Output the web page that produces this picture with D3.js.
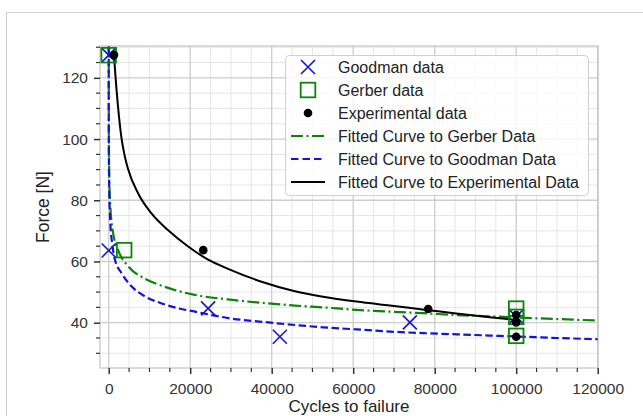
<!DOCTYPE html>
<html><head><meta charset="utf-8">
<script src="https://cdn.jsdelivr.net/npm/d3@7"></script>
<style>body{margin:0;background:#fff}svg{display:block;font-family:"Liberation Sans",Arial,sans-serif}</style>
</head><body>
<svg id="c" width="643" height="416"></svg>
<script>
// ---- data ----
const xMajorTicks = [0, 20000, 40000, 60000, 80000, 100000, 120000];
const yMajorTicks = [40, 60, 80, 100, 120];

const goodmanN = [0, 0, 24400, 42000, 73900, 100000];
const goodmanF = [127.4, 63.6, 44.7, 35.4, 40.1, 42.0];

const gerberN = [0, 3800, 100000, 100000, 100000];
const gerberF = [127.4, 63.7, 44.6, 41.9, 35.7];

const expN = [1300, 23200, 78400, 100000, 100000, 100000];
const expF = [127.5, 63.7, 44.5, 42.5, 40.1, 35.4];

const fitGerberN = [1, 10, 50, 150, 400, 1000, 2300, 4750, 8850, 12950, 21100, 29300, 37500, 45700, 52600, 60800, 69000, 77100, 85300, 93500, 100000, 110000, 120000];
const fitGerberF = [153, 118, 98.5, 87, 78, 70, 63.8, 58.5, 54.4, 52.1, 49.1, 47.6, 46.5, 45.6, 45.0, 44.2, 43.6, 43.1, 42.5, 42.1, 41.7, 41.2, 40.7];

const fitGoodmanN = [1, 10, 50, 150, 400, 900, 1550, 3200, 5650, 8900, 13000, 17100, 21200, 25300, 29350, 37550, 45700, 52650, 60850, 69000, 77200, 85400, 93550, 100000, 110000, 120000];
const fitGoodmanF = [155, 115, 94, 82, 72.5, 65.5, 60.5, 56.1, 51.8, 48.6, 46.3, 44.7, 43.6, 42.5, 41.5, 40.3, 39.25, 38.5, 37.8, 37.1, 36.6, 36.2, 35.8, 35.5, 35.0, 34.6];

const fitExpN = [1300, 1500, 2300, 3150, 3950, 4750, 7200, 10500, 14600, 19500, 24400, 29300, 37500, 45700, 52600, 60800, 69000, 78400, 85300, 93500, 100000];
const fitExpF = [127.5, 123.5, 110.4, 100.2, 94.4, 90.2, 82.3, 75.7, 70.2, 64.9, 60.6, 57.6, 53.4, 50.3, 48.5, 46.9, 45.6, 44.1, 43.0, 41.8, 40.9];

const legendLabels = ["Goodman data", "Gerber data", "Experimental data",
  "Fitted Curve to Gerber Data", "Fitted Curve to Goodman Data", "Fitted Curve to Experimental Data"];

// ---- drawing ----
const BLUE = "#1414d2", GREEN = "#0a840a", BLACK = "#000";
const svg = d3.select("#c");
const L = 100, R = 598, T = 46, B = 368;
const x = d3.scaleLinear().domain([-2135, 120074]).range([L, R]);
const y = d3.scaleLinear().domain([25.2, 130.4]).range([B, T]);

// figure frame
svg.append("rect").attr("x", 6.5).attr("y", 12.5).attr("width", 700).attr("height", 500)
  .attr("fill", "none").attr("stroke", "#cfcfcf").attr("stroke-width", 1);

const xMinor = d3.range(0, 120001, 5000).filter(v => !xMajorTicks.includes(v));
const yMinor = d3.range(30, 131, 5).filter(v => !yMajorTicks.includes(v));

const g = svg.append("g");
// grids
g.selectAll(".gxm").data(xMinor).join("line").attr("x1", d => x(d)).attr("x2", d => x(d))
  .attr("y1", T).attr("y2", B).attr("stroke", "#e6e6e6").attr("stroke-width", 1);
g.selectAll(".gym").data(yMinor).join("line").attr("y1", d => y(d)).attr("y2", d => y(d))
  .attr("x1", L).attr("x2", R).attr("stroke", "#e6e6e6").attr("stroke-width", 1);
g.selectAll(".gx").data(xMajorTicks).join("line").attr("x1", d => x(d)).attr("x2", d => x(d))
  .attr("y1", T).attr("y2", B).attr("stroke", "#cdcdcd").attr("stroke-width", 1.3);
g.selectAll(".gy").data(yMajorTicks).join("line").attr("y1", d => y(d)).attr("y2", d => y(d))
  .attr("x1", L).attr("x2", R).attr("stroke", "#cdcdcd").attr("stroke-width", 1.3);

// spines
svg.append("rect").attr("x", L).attr("y", T).attr("width", R - L).attr("height", B - T)
  .attr("fill", "none").attr("stroke", "#c4c4c4").attr("stroke-width", 1.2);

// axes with d3 axis
const xAxis = d3.axisBottom(x).tickValues(xMajorTicks).tickFormat(d3.format("d")).tickSize(6).tickPadding(4);
const yAxis = d3.axisLeft(y).tickValues(yMajorTicks).tickFormat(d3.format("d")).tickSize(6).tickPadding(6);
const gx = svg.append("g").attr("transform", `translate(0,${B})`).call(xAxis);
const gy = svg.append("g").attr("transform", `translate(${L},0)`).call(yAxis);
[gx, gy].forEach(a => {
  a.select(".domain").remove();
  a.selectAll(".tick line").attr("stroke", "#333").attr("stroke-width", 1.5);
  a.selectAll(".tick text").attr("fill", "#333").attr("font-size", 15.5)
    .attr("font-family", "Liberation Sans, Arial, sans-serif");
});
gx.selectAll(".tick text").attr("dy", null).attr("y", 25.5);
// minor ticks
svg.append("g").selectAll("line").data(xMinor).join("line")
  .attr("x1", d => x(d)).attr("x2", d => x(d)).attr("y1", B).attr("y2", B + 4)
  .attr("stroke", "#333").attr("stroke-width", 1.2);
svg.append("g").selectAll("line").data(yMinor).join("line")
  .attr("y1", d => y(d)).attr("y2", d => y(d)).attr("x1", L).attr("x2", L - 4)
  .attr("stroke", "#333").attr("stroke-width", 1.2);

// axis labels
svg.append("text").attr("x", (L + R) / 2).attr("y", 412.3).attr("text-anchor", "middle")
  .attr("font-size", 17).attr("fill", "#222").text("Cycles to failure");
svg.append("text").attr("transform", `translate(49,${(T + B) / 2}) rotate(-90)`).attr("text-anchor", "middle")
  .attr("font-size", 17.5).attr("fill", "#222").text("Force [N]");

// clip
svg.append("clipPath").attr("id", "clip").append("rect")
  .attr("x", L).attr("y", T).attr("width", R - L).attr("height", B - T);

const line = d3.line().x(d => x(d[0])).y(d => y(d[1])).curve(d3.curveMonotoneX);
const lines = svg.append("g").attr("clip-path", "url(#clip)");
lines.append("path").datum(d3.zip(fitGerberN, fitGerberF)).attr("d", line)
  .attr("fill", "none").attr("stroke", GREEN).attr("stroke-width", 2.2).attr("stroke-dasharray", "12,3.5,2,3.5");
lines.append("path").datum(d3.zip(fitGoodmanN, fitGoodmanF)).attr("d", line)
  .attr("fill", "none").attr("stroke", BLUE).attr("stroke-width", 2.2).attr("stroke-dasharray", "7.5,3.5");
lines.append("path").datum(d3.zip(fitExpN, fitExpF)).attr("d", line)
  .attr("fill", "none").attr("stroke", BLACK).attr("stroke-width", 2);

// markers
function xMark(sel, cx, cy, s) {
  sel.append("path").attr("d", `M${cx - s},${cy - s}L${cx + s},${cy + s}M${cx - s},${cy + s}L${cx + s},${cy - s}`)
    .attr("stroke", BLUE).attr("stroke-width", 1.6).attr("fill", "none");
}
const mk = svg.append("g");
d3.zip(goodmanN, goodmanF).forEach(d => xMark(mk, x(d[0]), y(d[1]), 7));
mk.selectAll(".sq").data(d3.zip(gerberN, gerberF)).join("rect")
  .attr("x", d => x(d[0]) - 7.3).attr("y", d => y(d[1]) - 7.3).attr("width", 14.6).attr("height", 14.6)
  .attr("fill", "none").attr("stroke", GREEN).attr("stroke-width", 1.8);
mk.selectAll(".dt").data(d3.zip(expN, expF)).join("circle")
  .attr("cx", d => x(d[0])).attr("cy", d => y(d[1])).attr("r", 4.3).attr("fill", BLACK);

// legend
const lg = svg.append("g");
lg.append("rect").attr("x", 285.5).attr("y", 55.5).attr("width", 303).attr("height", 140).attr("rx", 4)
  .attr("fill", "#fff").attr("fill-opacity", 0.8).attr("stroke", "#d0d0d0");
const rowY = i => 67 + i * 23;
const hx = 308;
xMark(lg, hx, rowY(0), 7);
lg.append("rect").attr("x", hx - 7.3).attr("y", rowY(1) - 7.3).attr("width", 14.6).attr("height", 14.6)
  .attr("fill", "none").attr("stroke", GREEN).attr("stroke-width", 1.8);
lg.append("circle").attr("cx", hx).attr("cy", rowY(2)).attr("r", 4.3).attr("fill", BLACK);
lg.append("line").attr("x1", 291).attr("x2", 325).attr("y1", rowY(3)).attr("y2", rowY(3))
  .attr("stroke", GREEN).attr("stroke-width", 2.2).attr("stroke-dasharray", "12,3.5,2,3.5");
lg.append("line").attr("x1", 291).attr("x2", 325).attr("y1", rowY(4)).attr("y2", rowY(4))
  .attr("stroke", BLUE).attr("stroke-width", 2.2).attr("stroke-dasharray", "7.5,4");
lg.append("line").attr("x1", 291).attr("x2", 325).attr("y1", rowY(5)).attr("y2", rowY(5))
  .attr("stroke", BLACK).attr("stroke-width", 2);
lg.selectAll(".lt").data(legendLabels).join("text")
  .attr("x", 338).attr("y", (d, i) => rowY(i) + 5.6).attr("font-size", 16).attr("fill", "#222").text(d => d);
</script>
</body></html>
